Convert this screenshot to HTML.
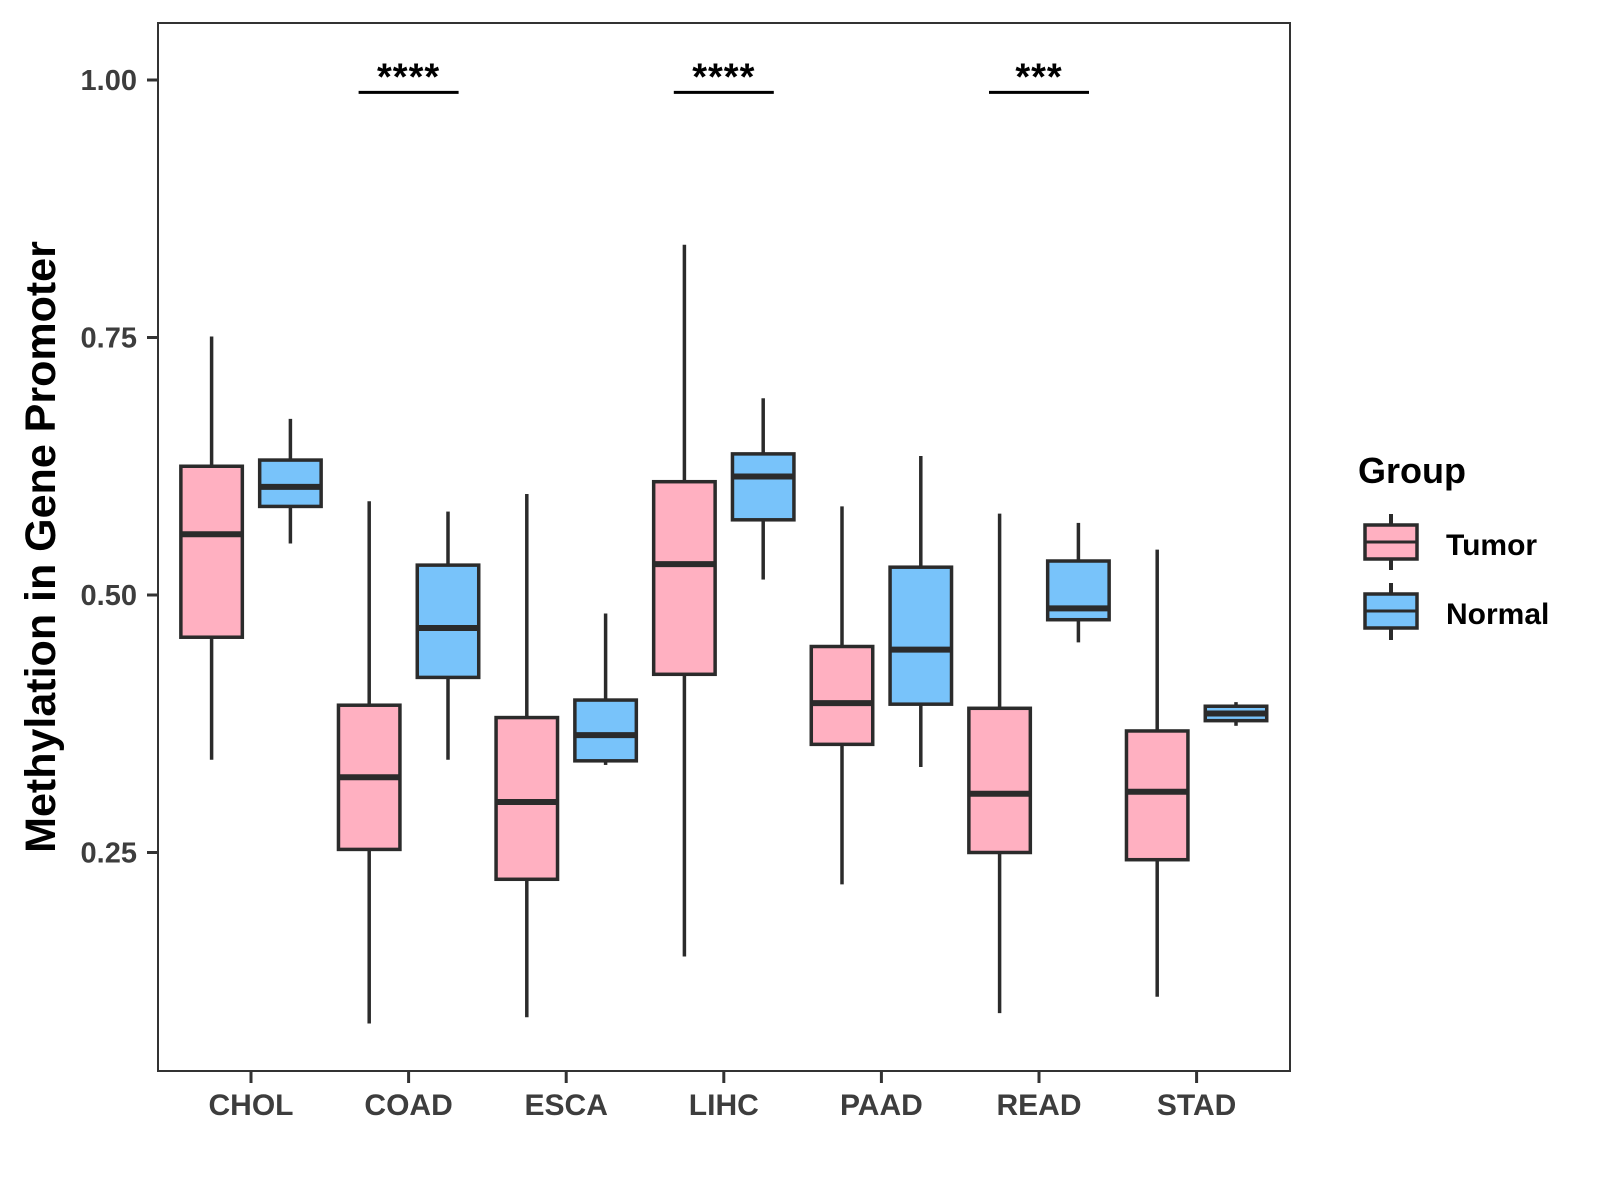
<!DOCTYPE html>
<html><head><meta charset="utf-8"><style>
body{margin:0;background:#fff}
svg{display:block;font-family:"Liberation Sans",Arial,sans-serif}
</style></head><body>
<svg id="chart" width="1600" height="1200">
<rect x="158" y="23" width="1132" height="1048" fill="#fff" stroke="#333" stroke-width="2"/>
<g id="yaxis"></g>
<g id="xaxis"></g>
<g id="boxes"></g>
<g id="sig"></g>
<text x="55" y="547" transform="rotate(-90 55 547)" text-anchor="middle" font-size="43" font-weight="bold" fill="#000">Methylation in Gene Promoter</text>
<g>
<text x="1358" y="483" font-size="36" font-weight="bold" fill="#000">Group</text>
<g>
<line x1="1391" y1="514" x2="1391" y2="570" stroke="#2b2b2b" stroke-width="4"/>
<rect x="1365" y="525" width="52" height="34" fill="#FFB0C1" stroke="#2b2b2b" stroke-width="3.5"/>
<line x1="1365" y1="542" x2="1417" y2="542" stroke="#2b2b2b" stroke-width="3"/>
<text x="1446" y="555" font-size="30" font-weight="bold" fill="#000">Tumor</text>
</g>
<g>
<line x1="1391" y1="583" x2="1391" y2="640" stroke="#2b2b2b" stroke-width="4"/>
<rect x="1365" y="594" width="52" height="34" fill="#78C3FA" stroke="#2b2b2b" stroke-width="3.5"/>
<line x1="1365" y1="611" x2="1417" y2="611" stroke="#2b2b2b" stroke-width="3"/>
<text x="1446" y="624" font-size="30" font-weight="bold" fill="#000">Normal</text>
</g>
</g>
</svg>
<script>
const categories=["CHOL","COAD","ESCA","LIHC","PAAD","READ","STAD"];
// [low, q1, median, q3, high]
const tumorStats=[[0.340,0.459,0.559,0.625,0.751],[0.084,0.253,0.323,0.393,0.591],[0.090,0.224,0.299,0.381,0.598],[0.149,0.423,0.530,0.610,0.840],[0.219,0.355,0.395,0.450,0.586],[0.094,0.250,0.307,0.390,0.579],[0.110,0.243,0.309,0.368,0.544]];
const normalStats=[[0.550,0.586,0.605,0.631,0.671],[0.340,0.420,0.468,0.529,0.581],[0.335,0.339,0.364,0.398,0.482],[0.515,0.573,0.615,0.637,0.691],[0.333,0.394,0.447,0.527,0.635],[0.454,0.476,0.487,0.533,0.570],[0.373,0.378,0.385,0.392,0.396]];
const yTicks=[0.25,0.50,0.75,1.00];
const yTickLabels=["0.25","0.50","0.75","1.00"];
const sigCats=["COAD","LIHC","READ"];
const sigLabels=["****","****","***"];
const sigValue=0.988;

const NS="http://www.w3.org/2000/svg";
const y=v=>80+(1-v)*1030;
const x=i=>251+i*157.6;
const step=157.6;
function mk(tag,attrs,parent){const e=document.createElementNS(NS,tag);for(const k in attrs)e.setAttribute(k,attrs[k]);parent.appendChild(e);return e;}
const ya=document.getElementById('yaxis'),xa=document.getElementById('xaxis'),bx=document.getElementById('boxes'),sg=document.getElementById('sig');
yTicks.forEach((v,i)=>{
  const l=mk('line',{x1:147,x2:157,y1:y(v),y2:y(v),stroke:'#333','stroke-width':3},ya);
  
  
  const t=mk('text',{x:137,y:y(v)+10,'text-anchor':'end','font-size':29,'font-weight':'bold',fill:'#3d3d3d'},ya);
  t.textContent=yTickLabels[i];
  
  
});
categories.forEach((c,i)=>{
  const l=mk('line',{x1:x(i),x2:x(i),y1:1072,y2:1083,stroke:'#333','stroke-width':3},xa);
  
  
  const t=mk('text',{x:x(i),y:1115,'text-anchor':'middle','font-size':30,'font-weight':'bold',fill:'#3d3d3d'},xa);
  t.textContent=c;
  
  
});
function drawBox(s,cx,fill,name){
  const g=mk('g',{},bx);
  
  
  const w=step*0.39;
  mk('line',{x1:cx,x2:cx,y1:y(s[4]),y2:y(s[3]),stroke:'#2b2b2b','stroke-width':3.5},g);
  mk('line',{x1:cx,x2:cx,y1:y(s[1]),y2:y(s[0]),stroke:'#2b2b2b','stroke-width':3.5},g);
  mk('rect',{x:cx-w/2,y:y(s[3]),width:w,height:Math.max(0.5,y(s[1])-y(s[3])),fill:fill,stroke:'#2b2b2b','stroke-width':3.5},g);
  mk('line',{x1:cx-w/2,x2:cx+w/2,y1:y(s[2]),y2:y(s[2]),stroke:'#2b2b2b','stroke-width':6},g);
}
categories.forEach((c,i)=>{
  drawBox(tumorStats[i],x(i)-step/4,'#FFB0C1','box-'+c.toLowerCase()+'-tumor');
  drawBox(normalStats[i],x(i)+step/4,'#78C3FA','box-'+c.toLowerCase()+'-normal');
});
sigCats.forEach((c,k)=>{
  const i=categories.indexOf(c);
  const l=mk('line',{x1:x(i)-50,x2:x(i)+50,y1:y(sigValue),y2:y(sigValue),stroke:'#000','stroke-width':3},sg);
  
  
  const t=mk('text',{x:x(i),y:y(sigValue)-3,'text-anchor':'middle','font-size':38,'font-weight':'bold',fill:'#000','letter-spacing':'1'},sg);
  t.textContent=sigLabels[k];
  
  
});
</script>
</body></html>
